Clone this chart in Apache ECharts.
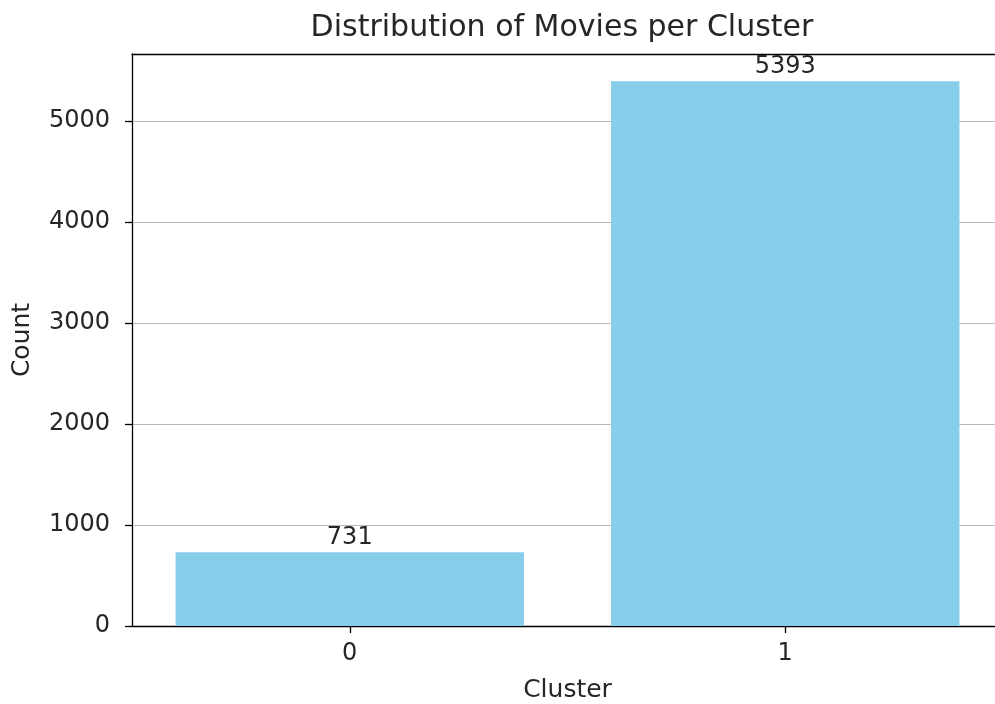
<!DOCTYPE html>
<html>
<head>
<meta charset="utf-8">
<script src="https://cdn.jsdelivr.net/npm/echarts@6/dist/echarts.min.js"></script>
<style>html,body{margin:0;padding:0;background:#fff}#c{width:995px;height:704px}</style>
</head>
<body>
<div id="c"></div>
<script>
const titleText = "Distribution of Movies per Cluster";
const categories = ["0", "1"];
const counts = [731, 5393];
const yTicks = [0, 1000, 2000, 3000, 4000, 5000];
const xLabel = "Cluster";
const yLabel = "Count";

const font = "DejaVu Sans";
const txt = "#262626";
const chart = echarts.init(document.getElementById('c'), null, {renderer: 'canvas'});
const yMax = Math.max(...counts) * 1.05;
chart.setOption({
  animation: false,
  backgroundColor: '#ffffff',
  textStyle: {fontFamily: font},
  title: {
    text: titleText, left: 557, top: 8, textAlign: 'center',
    textStyle: {fontFamily: font, fontSize: 30, fontWeight: 'normal', color: txt}
  },
  grid: {left: 132, right: -8, top: 54, bottom: 78, containLabel: false, outerBoundsMode: 'none'},
  xAxis: [{
    type: 'category', data: categories, position: 'bottom',
    name: xLabel, nameLocation: 'middle', nameGap: 52,
    nameTextStyle: {fontFamily: font, fontSize: 25, color: txt},
    axisLine: {show: true, lineStyle: {color: '#000', width: 1.3}},
    axisTick: {show: true, alignWithLabel: true, length: 7, lineStyle: {color: '#000', width: 1.3}},
    axisLabel: {fontFamily: font, fontSize: 24, color: txt, margin: 16},
    splitLine: {show: false}
  }, {
    type: 'category', data: categories, position: 'top',
    axisLine: {show: true, lineStyle: {color: '#000', width: 1.3}},
    axisTick: {show: false}, axisLabel: {show: false}, splitLine: {show: false}
  }],
  yAxis: {
    type: 'value', min: yTicks[0], max: yMax, interval: 1000,
    name: yLabel, nameLocation: 'middle', nameGap: 97,
    nameTextStyle: {fontFamily: font, fontSize: 25, color: txt},
    axisLine: {show: true, lineStyle: {color: '#000', width: 1.3}},
    axisTick: {show: true, length: 7, lineStyle: {color: '#000', width: 1.3}},
    axisLabel: {fontFamily: font, fontSize: 24, color: txt, margin: 22, showMaxLabel: false,
      formatter: v => yTicks.includes(v) ? String(v) : ''},
    splitLine: {show: true, lineStyle: {color: '#b8b8b8', width: 1.2}}
  },
  series: [{
    type: 'bar', data: counts, xAxisIndex: 0, barWidth: '80%',
    itemStyle: {color: '#87CEEB'},
    label: {show: true, position: 'top', distance: 2, fontFamily: font, fontSize: 24, color: txt}
  }]
});
</script>
</body>
</html>
